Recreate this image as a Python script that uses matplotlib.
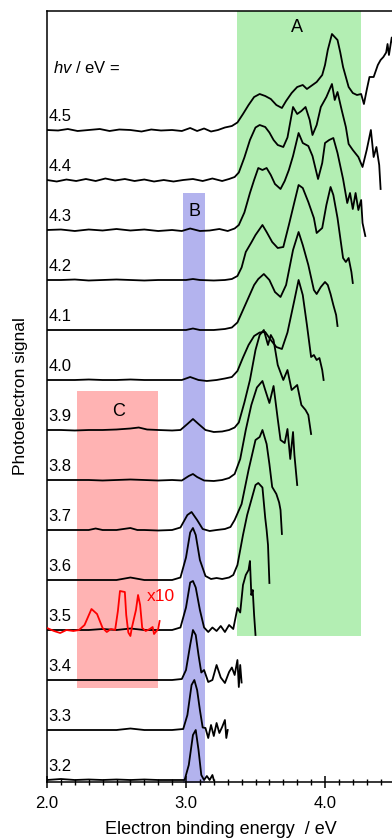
import matplotlib
matplotlib.use("Agg")
import matplotlib.pyplot as plt
from matplotlib.ticker import MultipleLocator, FixedLocator

plt.rcParams['font.family'] = ['Liberation Sans', 'DejaVu Sans']
plt.rcParams['mathtext.fontset'] = 'custom'
plt.rcParams['mathtext.it'] = 'Liberation Sans:italic'
plt.rcParams['mathtext.rm'] = 'Liberation Sans'

# photon energies (eV), top to bottom
hv = [4.5, 4.4, 4.3, 4.2, 4.1, 4.0, 3.9, 3.8, 3.7, 3.6, 3.5, 3.4, 3.3, 3.2]

# spectra: binding energy (eV) and signal (stack units, 1 = spacing between traces)
x45 = [2.00, 2.08, 2.15, 2.22, 2.30, 2.38, 2.45, 2.52, 2.60, 2.68, 2.75, 2.82, 2.90, 2.97, 3.03,
       3.08, 3.13, 3.18, 3.23, 3.28, 3.33, 3.37, 3.41, 3.45, 3.49, 3.53, 3.57, 3.61, 3.65, 3.69,
       3.72, 3.76, 3.80, 3.84, 3.87, 3.91, 3.94, 3.98, 4.00, 4.02, 4.05, 4.09, 4.11, 4.13, 4.17,
       4.20, 4.23, 4.26, 4.28, 4.30, 4.32, 4.35, 4.38, 4.40, 4.42, 4.44, 4.45, 4.46, 4.48, 4.50]
y45 = [0.0, -0.01, 0.02, -0.02, 0.0, 0.02, -0.02, 0.01, 0.0, -0.03, 0.01, -0.01, 0.0, -0.02, 0.04,
       -0.02, 0.03, -0.03, 0.0, 0.05, 0.08, 0.15, 0.32, 0.50, 0.66, 0.72, 0.68, 0.62, 0.50, 0.44,
       0.58, 0.74, 0.86, 0.90, 0.82, 0.90, 0.96, 1.10, 1.30, 1.60, 1.92, 1.80, 1.55, 1.26, 0.86,
       0.74, 0.70, 0.72, 0.52, 0.80, 1.06, 1.06, 1.30, 1.40, 1.46, 1.55, 1.72, 1.50, 1.85, 1.60]

x44 = [2.00, 2.07, 2.14, 2.21, 2.28, 2.35, 2.42, 2.49, 2.56, 2.63, 2.70, 2.77, 2.84, 2.91, 2.98,
       3.05, 3.12, 3.19, 3.26, 3.31, 3.35, 3.38, 3.42, 3.46, 3.50, 3.53, 3.57, 3.60, 3.63, 3.66,
       3.70, 3.73, 3.77, 3.80, 3.83, 3.86, 3.89, 3.91, 3.94, 3.97, 4.01, 4.05, 4.07, 4.09, 4.12,
       4.15, 4.17, 4.20, 4.24, 4.27, 4.30, 4.33, 4.35, 4.37, 4.39, 4.40]
y44 = [0.0, -0.03, 0.01, -0.02, 0.02, -0.02, 0.03, -0.01, 0.02, -0.02, 0.01, -0.03, 0.0, -0.03, 0.0,
       0.02, -0.02, 0.03, -0.02, 0.02, 0.06, 0.15, 0.45, 0.80, 1.05, 1.10, 1.06, 0.95, 0.80, 0.70,
       0.66, 0.85, 1.46, 1.32, 1.38, 1.46, 1.20, 0.90, 1.10, 1.46, 1.66, 1.92, 1.60, 1.76, 1.40,
       1.06, 0.72, 0.60, 0.46, 0.26, 0.60, 1.00, 0.46, 0.66, 0.30, -0.18]

x43 = [2.00, 2.10, 2.20, 2.30, 2.40, 2.50, 2.60, 2.70, 2.80, 2.90, 2.97, 3.03, 3.10, 3.17, 3.24,
       3.30, 3.35, 3.38, 3.42, 3.46, 3.49, 3.52, 3.55, 3.58, 3.61, 3.64, 3.68, 3.71, 3.74, 3.77,
       3.81, 3.84, 3.88, 3.91, 3.95, 3.98, 4.00, 4.03, 4.06, 4.09, 4.13, 4.16, 4.18, 4.20, 4.22,
       4.24, 4.26, 4.27, 4.29]
y43 = [0.0, 0.01, -0.02, 0.01, -0.01, 0.02, -0.01, 0.01, -0.02, 0.0, -0.02, 0.03, -0.02, -0.01, 0.02,
       -0.02, 0.03, 0.10, 0.35, 0.74, 1.00, 1.24, 1.20, 1.24, 1.10, 0.92, 0.82, 0.98, 1.20, 1.48,
       1.94, 1.74, 1.68, 1.48, 1.02, 1.34, 1.74, 1.80, 1.84, 1.54, 1.02, 0.54, 0.74, 0.42, 0.74,
       0.40, 0.60, 0.14, -0.12]

x42 = [2.00, 2.10, 2.20, 2.30, 2.40, 2.50, 2.60, 2.70, 2.80, 2.90, 3.00, 3.05, 3.10, 3.20, 3.28,
       3.33, 3.37, 3.40, 3.43, 3.47, 3.50, 3.55, 3.58, 3.62, 3.66, 3.70, 3.74, 3.78, 3.81, 3.84,
       3.88, 3.92, 3.94, 3.98, 4.01, 4.04, 4.06, 4.09, 4.11, 4.13, 4.15, 4.17, 4.19, 4.20]
y42 = [0.0, 0.0, 0.01, -0.01, 0.0, 0.01, 0.0, -0.01, 0.0, 0.0, 0.0, 0.02, 0.0, -0.01, 0.0,
       0.02, 0.08, 0.25, 0.56, 0.75, 0.90, 1.10, 0.96, 0.76, 0.64, 0.66, 1.10, 1.56, 1.90, 1.84,
       1.56, 1.24, 0.94, 1.04, 1.50, 1.86, 1.70, 1.24, 0.84, 0.44, 0.36, 0.44, 0.16, -0.06]

x41 = [2.00, 2.10, 2.20, 2.30, 2.40, 2.50, 2.60, 2.70, 2.80, 2.90, 3.00, 3.05, 3.10, 3.20, 3.28,
       3.33, 3.37, 3.41, 3.45, 3.49, 3.52, 3.56, 3.60, 3.64, 3.68, 3.72, 3.77, 3.81, 3.84, 3.88,
       3.92, 3.94, 3.97, 4.00, 4.02, 4.04, 4.06, 4.08, 4.09]
y41 = [0.0, 0.0, 0.0, 0.0, 0.0, 0.0, 0.0, 0.0, 0.0, 0.0, 0.0, 0.03, 0.0, 0.0, 0.02,
       0.05, 0.15, 0.40, 0.65, 0.90, 1.02, 1.12, 1.00, 0.76, 0.66, 0.90, 1.60, 1.96, 1.70, 1.30,
       0.80, 0.72, 0.86, 0.96, 0.90, 0.72, 0.50, 0.30, 0.08]

x40 = [2.00, 2.10, 2.20, 2.30, 2.40, 2.50, 2.60, 2.70, 2.80, 2.90, 2.97, 3.03, 3.09, 3.15, 3.22,
       3.28, 3.33, 3.37, 3.41, 3.45, 3.49, 3.53, 3.57, 3.61, 3.65, 3.69, 3.73, 3.78, 3.81, 3.84,
       3.87, 3.90, 3.92, 3.94, 3.96, 3.98, 3.99]
y40 = [0.0, 0.0, 0.0, 0.01, 0.0, 0.0, 0.01, 0.0, 0.0, 0.0, 0.0, 0.06, 0.0, -0.02, 0.0,
       0.03, 0.06, 0.18, 0.45, 0.70, 0.88, 0.95, 0.96, 0.80, 0.66, 0.62, 0.95, 1.60, 2.00, 1.70,
       1.10, 0.46, 0.50, 0.40, 0.44, 0.20, 0.0]

x39 = [2.00, 2.10, 2.20, 2.30, 2.40, 2.50, 2.60, 2.66, 2.72, 2.80, 2.90, 2.96, 3.01, 3.05, 3.09,
       3.14, 3.20, 3.26, 3.31, 3.35, 3.38, 3.42, 3.46, 3.50, 3.53, 3.56, 3.59, 3.61, 3.63, 3.66,
       3.70, 3.73, 3.76, 3.80, 3.83, 3.86, 3.88, 3.90]
y39 = [0.0, 0.0, -0.01, 0.0, 0.0, 0.01, 0.03, 0.05, 0.01, 0.0, -0.01, 0.0, 0.12, 0.22, 0.12,
       0.0, -0.04, -0.03, 0.0, 0.05, 0.15, 0.55, 1.00, 1.60, 1.90, 2.00, 1.70, 1.90, 1.80, 1.30,
       1.00, 1.20, 0.80, 0.90, 0.50, 0.40, 0.30, -0.08]

x38 = [2.00, 2.10, 2.20, 2.30, 2.40, 2.50, 2.60, 2.70, 2.80, 2.90, 2.97, 3.02, 3.05, 3.08, 3.13,
       3.20, 3.26, 3.31, 3.35, 3.39, 3.43, 3.47, 3.51, 3.55, 3.57, 3.60, 3.63, 3.66, 3.68, 3.71,
       3.73, 3.75, 3.77, 3.78, 3.80]
y38 = [0.0, 0.0, 0.0, 0.0, -0.01, 0.0, 0.01, 0.0, -0.01, 0.0, -0.01, 0.08, 0.12, 0.06, -0.01,
       -0.02, 0.0, 0.04, 0.12, 0.42, 1.00, 1.50, 1.85, 1.98, 1.80, 1.54, 1.88, 1.22, 0.80, 0.74,
       1.02, 0.42, 0.96, 0.50, -0.10]

x37 = [2.00, 2.10, 2.20, 2.30, 2.35, 2.40, 2.50, 2.60, 2.65, 2.70, 2.80, 2.90, 2.96, 3.01, 3.04,
       3.08, 3.12, 3.17, 3.22, 3.28, 3.32, 3.35, 3.40, 3.45, 3.50, 3.53, 3.55, 3.58, 3.60, 3.62,
       3.65, 3.67, 3.68, 3.69]
y37 = [0.0, 0.0, 0.0, 0.0, 0.03, 0.0, 0.0, 0.04, 0.0, 0.0, -0.01, 0.0, 0.05, 0.30, 0.36,
       0.20, 0.02, -0.02, 0.0, 0.02, 0.06, 0.20, 0.52, 1.20, 1.80, 1.86, 2.00, 1.72, 1.32, 0.86,
       0.72, 0.55, 0.40, -0.08]

x36 = [2.00, 2.10, 2.20, 2.30, 2.40, 2.50, 2.60, 2.70, 2.80, 2.90, 2.96, 3.00, 3.03, 3.05, 3.07,
       3.10, 3.14, 3.18, 3.22, 3.26, 3.31, 3.34, 3.37, 3.41, 3.44, 3.48, 3.50, 3.52, 3.55, 3.57,
       3.58, 3.59, 3.60]
y36 = [0.0, 0.0, 0.0, 0.0, 0.0, 0.0, 0.05, 0.0, 0.0, 0.0, 0.05, 0.45, 0.95, 1.04, 0.90,
       0.40, 0.08, 0.02, 0.04, 0.02, 0.05, 0.10, 0.30, 0.90, 1.30, 1.70, 1.90, 1.94, 1.85, 1.24,
       1.00, 0.70, -0.06]

x35 = [2.00, 2.10, 2.20, 2.30, 2.40, 2.50, 2.60, 2.70, 2.80, 2.90, 2.96, 3.00, 3.03, 3.05, 3.07,
       3.10, 3.13, 3.16, 3.19, 3.22, 3.25, 3.28, 3.31, 3.34, 3.37, 3.39, 3.41, 3.43, 3.45, 3.46,
       3.47, 3.48, 3.49, 3.50]
y35 = [0.0, 0.0, 0.0, 0.0, 0.02, 0.0, 0.03, 0.0, 0.0, 0.0, 0.05, 0.45, 0.95, 0.98, 0.85,
       0.40, 0.05, -0.04, 0.05, -0.02, 0.08, -0.04, 0.10, 0.02, 0.44, 0.35, 0.90, 1.10, 1.20, 1.38,
       0.70, 0.80, 0.30, -0.10]

x34 = [2.00, 2.10, 2.20, 2.30, 2.40, 2.50, 2.60, 2.70, 2.80, 2.90, 2.97, 3.00, 3.03, 3.05, 3.07,
       3.09, 3.11, 3.13, 3.16, 3.19, 3.22, 3.25, 3.28, 3.31, 3.33, 3.35, 3.37, 3.38, 3.39, 3.40]
y34 = [0.0, 0.0, 0.0, 0.0, 0.0, 0.0, 0.0, 0.0, 0.0, 0.0, 0.02, 0.20, 0.70, 1.00, 0.90,
       0.50, 0.15, 0.20, -0.04, 0.0, 0.30, 0.05, -0.06, 0.16, 0.25, 0.10, 0.40, -0.14, 0.30, -0.05]

x33 = [2.00, 2.10, 2.20, 2.30, 2.40, 2.50, 2.60, 2.70, 2.80, 2.90, 2.98, 3.01, 3.04, 3.06, 3.08,
       3.10, 3.12, 3.14, 3.16, 3.18, 3.20, 3.22, 3.24, 3.26, 3.28, 3.29, 3.30]
y33 = [0.0, 0.0, 0.0, 0.0, 0.0, 0.0, 0.03, 0.0, 0.0, 0.0, 0.02, 0.30, 0.90, 1.00, 0.80,
       0.40, 0.05, 0.04, -0.16, 0.10, -0.12, 0.14, -0.06, 0.06, 0.20, -0.16, 0.0]

x32 = [2.00, 2.10, 2.20, 2.30, 2.40, 2.50, 2.60, 2.70, 2.80, 2.90, 2.99, 3.02, 3.05, 3.07, 3.09,
       3.11, 3.13, 3.15, 3.17, 3.19, 3.20]
y32 = [0.0, 0.02, 0.0, 0.01, 0.0, 0.01, 0.0, 0.01, 0.0, 0.0, 0.0, 0.30, 0.90, 1.00, 0.60,
       0.10, 0.0, 0.08, 0.0, 0.10, 0.0]

# hv = 3.5 trace magnified x10 (red)
x35_x10 = [2.00, 2.05, 2.095, 2.14, 2.19, 2.23, 2.27, 2.32, 2.36, 2.40, 2.43, 2.46, 2.49, 2.51, 2.525,
           2.56, 2.57, 2.585, 2.60, 2.61, 2.64, 2.655, 2.67, 2.685, 2.71, 2.74, 2.76, 2.77, 2.80, 2.81]
y35_x10 = [0.04, -0.02, -0.06, 0.0, -0.02, 0.0, 0.10, 0.42, 0.32, 0.04, -0.04, 0.02, 0.0, 0.38, 0.78,
           0.76, 0.30, -0.05, -0.12, 0.04, 0.40, 0.70, 0.50, 0.04, -0.02, 0.02, 0.06, -0.08, 0.02, 0.18]

xs = [x45, x44, x43, x42, x41, x40, x39, x38, x37, x36, x35, x34, x33, x32]
ys = [y45, y44, y43, y42, y41, y40, y39, y38, y37, y36, y35, y34, y33, y32]

# shaded bands: (x0, x1, y0, y1) in data units
band_A = (3.367, 4.259, 2.88, 15.38)
band_B = (2.978, 3.137, -0.1, 11.74)
band_C = (2.216, 2.800, 1.84, 7.78)


def main():
    W, H = 392, 838
    fig = plt.figure(figsize=(W / 100, H / 100), dpi=100)
    ax = fig.add_axes([47 / W, (H - 782) / H, (394.5 - 47) / W, (782 - 11) / H])
    ax.set_xlim(2.0, 4.5)
    ax.set_ylim(-0.04, 15.38)

    for (x0, x1, y0, y1), col in [(band_A, '#b3eeb3'), (band_B, '#b3b3ee'), (band_C, '#ffb3b3')]:
        ax.fill_between([x0, x1], y0, y1, color=col, lw=0, zorder=0)

    for e, x, y in zip(hv, xs, ys):
        assert len(x) == len(y)
        off = round((e - 3.2) * 10)
        ax.plot(x, [v + off for v in y], color='black', lw=1.3, zorder=3)
        ax.text(2.012, off + 0.12, f"{e:.1f}", fontsize=12, ha='left', va='bottom', zorder=4)

    off35 = round((3.5 - 3.2) * 10)
    ax.plot(x35_x10, [v + off35 for v in y35_x10], color='red', lw=1.3, zorder=4)
    ax.text(2.72, 3.68, "x10", color='red', fontsize=12.5, ha='left', va='center')

    ax.text(2.04, 14.24, r"$hv$ / eV =", fontsize=12, ha='left', va='center')
    ax.text(3.80, 15.04, "A", fontsize=13, ha='center', va='center')
    ax.text(3.058, 11.38, "B", fontsize=13, ha='center', va='center')
    ax.text(2.518, 7.38, "C", fontsize=13, ha='center', va='center')

    ax.spines['right'].set_visible(False)
    for s in ['left', 'top', 'bottom']:
        ax.spines[s].set_linewidth(1.1)
    ax.set_yticks([])
    ax.xaxis.set_major_locator(FixedLocator([2.0, 3.0, 4.0]))
    ax.xaxis.set_minor_locator(MultipleLocator(0.1))
    ax.set_xticklabels(["2.0", "3.0", "4.0"], fontsize=12)
    ax.tick_params(axis='x', which='major', direction='inout', length=8, width=1.1, pad=6)
    ax.tick_params(axis='x', which='minor', direction='inout', length=4, width=1.0)
    ax.set_xlabel("Electron binding energy  / eV", fontsize=13, labelpad=7)
    ax.set_ylabel("Photoelectron signal", fontsize=12.5, labelpad=14)

    fig.savefig("out.png", dpi=100)


if __name__ == "__main__":
    main()
